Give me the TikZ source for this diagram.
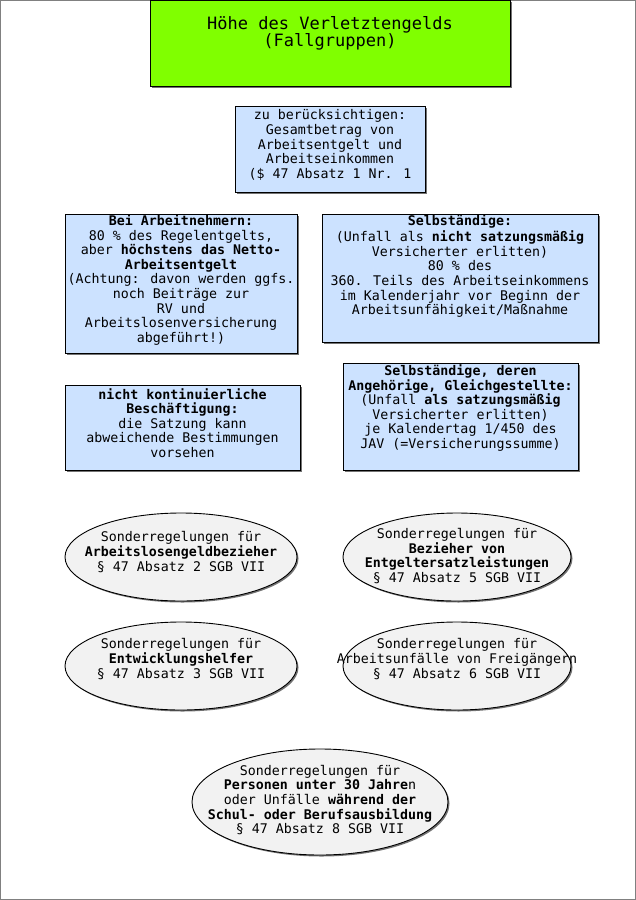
\documentclass[tikz,border=0pt]{standalone}
\usepackage{fontspec}
\setmainfont{DejaVu Sans Mono}
\usetikzlibrary{shapes.geometric,shadows}
\definecolor{titlegreen}{RGB}{128,255,0}
\definecolor{boxblue}{RGB}{204,226,255}
\definecolor{ellgray}{RGB}{242,242,242}
\definecolor{framegray}{RGB}{128,128,128}
\begin{document}
\begin{tikzpicture}[x=1pt,y=-1pt,
  shad/.style={drop shadow={shadow xshift=1.5pt,shadow yshift=-1.5pt,fill=black!55,opacity=1}},
  rectbox/.style={draw=black, line width=0.8pt, fill=boxblue, shad, inner sep=0pt},
  ellbox/.style={ellipse, draw=black, line width=0.9pt, fill=ellgray, shad, inner sep=0pt},
  txt/.style={align=center, font=\fontsize{13.3}{14.6}\selectfont, inner sep=0pt},
  ttl/.style={align=center, font=\fontsize{17}{17}\selectfont, inner sep=0pt}]
\useasboundingbox (0,0) rectangle (636,900);
\draw[framegray, line width=1pt] (0.5,0.5) rectangle (635.5,899.5);

% title
\node[rectbox, fill=titlegreen, minimum width=360pt, minimum height=86pt] (title) at (330,43) {};
\node[ttl] (titlet) at (330,33) {Höhe des Verletztengelds\\(Fallgruppen)};

% box A
\node[rectbox, minimum width=190pt, minimum height=86pt] (ba) at (330,149) {};
\node[txt] (bat) at (330,145) {zu berücksichtigen:\\Gesamtbetrag von\\Arbeitsentgelt und\\Arbeitseinkommen\\(\$ 47 Absatz 1 Nr. 1};

% box B
\node[rectbox, minimum width=232pt, minimum height=139pt] (bb) at (181,283.5) {};
\node[txt] (bbt) at (181,280) {\textbf{Bei Arbeitnehmern:}\\80 \% des Regelentgelts,\\aber \textbf{höchstens das Netto-}\\\textbf{Arbeitsentgelt}\\(Achtung: davon werden ggfs.\\noch Beiträge zur\\RV und\\Arbeitslosenversicherung\\abgeführt!)};

% box C
\node[rectbox, minimum width=276pt, minimum height=128pt] (bc) at (460,278) {};
\node[txt] (bct) at (460,266) {\textbf{Selbständige:}\\[2pt](Unfall als \textbf{nicht satzungsmäßig}\\Versicherter erlitten)\\80 \% des\\360. Teils des Arbeitseinkommens\\im Kalenderjahr vor Beginn der\\Arbeitsunfähigkeit/Maßnahme};

% box D
\node[rectbox, minimum width=235pt, minimum height=85pt] (bd) at (182.5,427.5) {};
\node[txt] (bdt) at (182.5,423) {\textbf{nicht kontinuierliche}\\\textbf{Beschäftigung:}\\die Satzung kann\\abweichende Bestimmungen\\vorsehen};

% box E
\node[rectbox, minimum width=235pt, minimum height=107pt] (be) at (460.5,416.5) {};
\node[txt] (bet) at (460.5,408) {\textbf{Selbständige, deren}\\\textbf{Angehörige, Gleichgestellte:}\\(Unfall \textbf{als satzungsmäßig}\\Versicherter erlitten)\\je Kalendertag 1/450 des\\JAV (=Versicherungssumme)};

% ellipses
\node[ellbox, minimum width=232pt, minimum height=88pt] (e1) at (181,557) {};
\node[txt] (e1t) at (181,552) {Sonderregelungen für\\\textbf{Arbeitslosengeldbezieher}\\§ 47 Absatz 2 SGB VII};

\node[ellbox, minimum width=228pt, minimum height=88pt] (e2) at (457,557) {};
\node[txt] (e2t) at (457,556) {Sonderregelungen für\\\textbf{Bezieher von}\\\textbf{Entgeltersatzleistungen}\\§ 47 Absatz 5 SGB VII};

\node[ellbox, minimum width=232pt, minimum height=88pt] (e3) at (181,666) {};
\node[txt] (e3t) at (181,659) {Sonderregelungen für\\\textbf{Entwicklungshelfer}\\§ 47 Absatz 3 SGB VII};

\node[ellbox, minimum width=228pt, minimum height=88pt] (e4) at (457,666) {};
\node[txt] (e4t) at (457,659) {Sonderregelungen für\\Arbeitsunfälle von Freigängern\\§ 47 Absatz 6 SGB VII};

\node[ellbox, minimum width=256pt, minimum height=106pt] (e5) at (320,802) {};
\node[txt] (e5t) at (320,800) {Sonderregelungen für\\\textbf{Personen unter 30 Jahre}n\\oder Unfälle \textbf{während der}\\\textbf{Schul- oder Berufsausbildung}\\§ 47 Absatz 8 SGB VII};
\end{tikzpicture}
\end{document}
